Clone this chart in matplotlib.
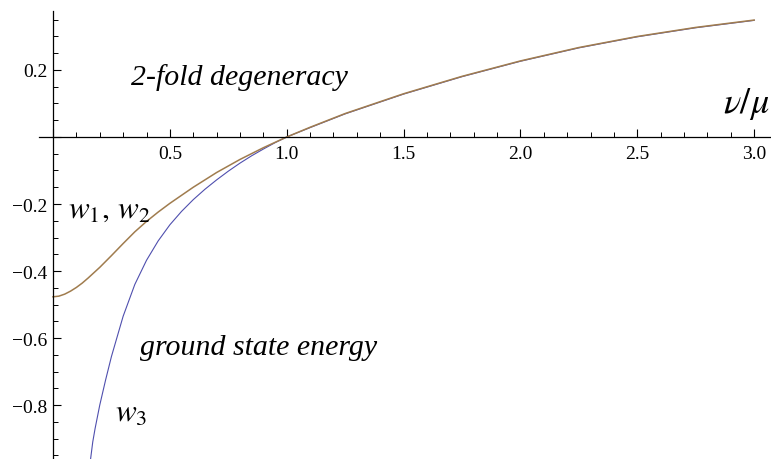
import numpy as np
import matplotlib
matplotlib.use("Agg")
import matplotlib.pyplot as plt
from matplotlib.ticker import MultipleLocator, FuncFormatter

# degenerate pair w1, w2
nu_12 = [0.0, 0.025, 0.05, 0.075, 0.1, 0.125, 0.15, 0.2, 0.25, 0.3, 0.35, 0.4,
         0.45, 0.5, 0.6, 0.7, 0.8, 0.9, 1.0, 1.1, 1.25, 1.5, 1.75, 2.0, 2.25,
         2.5, 2.75, 3.0]
w_12 = [-0.477, -0.475, -0.469, -0.460, -0.449, -0.436, -0.421, -0.389, -0.354,
        -0.318, -0.283, -0.252, -0.224, -0.198, -0.150, -0.106, -0.067, -0.032,
        0.0, 0.029, 0.070, 0.129, 0.181, 0.227, 0.267, 0.300, 0.327, 0.349]

# ground state w3
nu_3 = [0.16, 0.17, 0.18, 0.2, 0.225, 0.25, 0.3, 0.35, 0.4, 0.45, 0.5, 0.55,
        0.6, 0.65, 0.7, 0.75, 0.8, 0.85, 0.9, 0.95, 1.0, 1.1, 1.25, 1.5, 1.75,
        2.0, 2.25, 2.5, 2.75, 3.0]
w_3 = [-0.965, -0.91, -0.87, -0.80, -0.725, -0.655, -0.535, -0.44, -0.368,
       -0.31, -0.262, -0.222, -0.187, -0.156, -0.128, -0.102, -0.078, -0.056,
       -0.036, -0.017, 0.0, 0.028, 0.069, 0.128, 0.180, 0.226, 0.266, 0.299,
       0.326, 0.348]

plt.rcParams['font.family'] = ['Liberation Serif', 'DejaVu Serif']
plt.rcParams['mathtext.fontset'] = 'stix'

fig = plt.figure(figsize=(7.71, 4.6), dpi=100)
ax = fig.add_axes([39 / 771, 0, 1 - 39 / 771, 1 - 12 / 460])

ax.plot(nu_3, w_3, color='#4f4fae', lw=0.8)
ax.plot(nu_12, w_12, color='#a07c4e', lw=1.1)

ax.set_xlim(-0.06, 3.072)
ax.set_ylim(-0.961, 0.376)

# axes crossing at the origin
for s in ['top', 'right']:
    ax.spines[s].set_visible(False)
ax.spines['left'].set_position(('data', 0))
ax.spines['bottom'].set_position(('data', 0))
ax.spines['left'].set_linewidth(0.9)
ax.spines['bottom'].set_linewidth(0.9)

ax.xaxis.set_major_locator(MultipleLocator(0.5))
ax.xaxis.set_minor_locator(MultipleLocator(0.1))
ax.yaxis.set_major_locator(MultipleLocator(0.2))
ax.yaxis.set_minor_locator(MultipleLocator(0.05))


def fmt(v, pos):
    if abs(v) < 1e-9:
        return ''
    return ('%.1f' % v).replace('-', '\u2212')


ax.xaxis.set_major_formatter(FuncFormatter(fmt))
ax.yaxis.set_major_formatter(FuncFormatter(fmt))
ax.tick_params(which='major', direction='in', length=6, width=0.8, labelsize=14)
ax.tick_params(which='minor', direction='in', length=3.5, width=0.7)
ax.tick_params(axis='x', which='major', pad=6)
ax.tick_params(axis='y', which='major', pad=4)

ax.text(0.334, 0.158, '2-fold degeneracy', fontsize=21.5, style='italic')
ax.text(0.372, -0.648, 'ground state energy', fontsize=21.5, style='italic')
ax.text(0.063, -0.239, r'$w_1,\, w_2$', fontsize=22.5)
ax.text(0.265, -0.847, r'$w_3$', fontsize=22.5)
ax.text(2.867, 0.075, r'$\nu/\mu$', fontsize=26)

fig.savefig('out.png', dpi=100)
